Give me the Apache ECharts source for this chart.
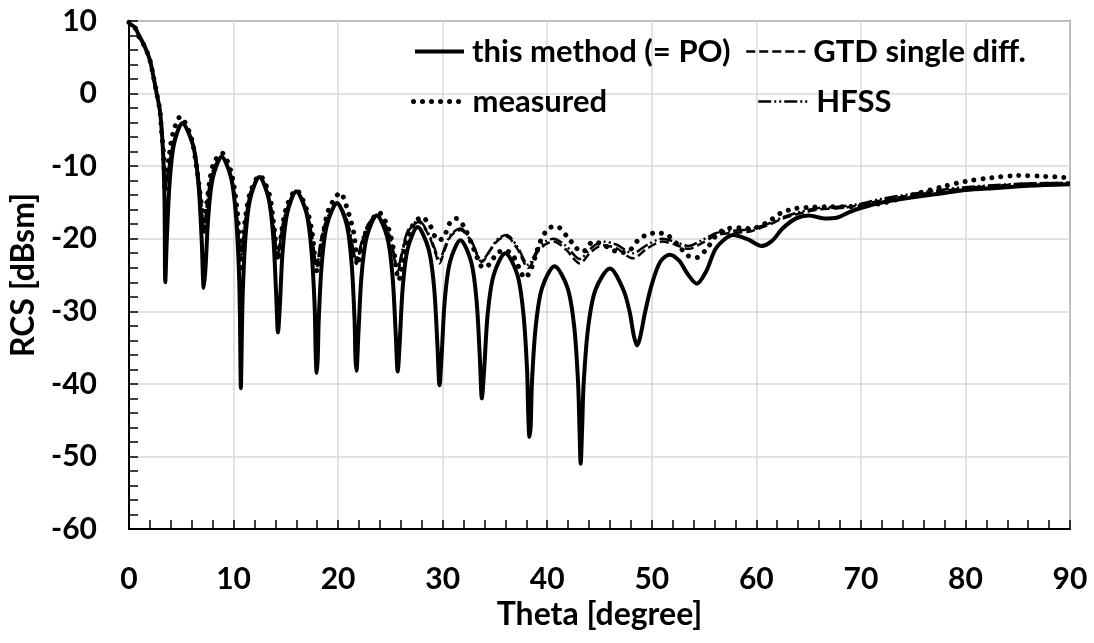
<!DOCTYPE html>
<html>
<head>
<meta charset="utf-8">
<script src="https://cdn.jsdelivr.net/npm/echarts@6/dist/echarts.min.js"></script>
<style>html,body{margin:0;padding:0;background:#fff}#c{width:1094px;height:643px}</style>
</head>
<body>
<div id="c"></div>
<script>
// ---- data: [theta (degree), RCS (dBsm)] ----
const seriesNames = ['this method (= PO)', 'GTD single diff.', 'measured', 'HFSS'];

const poData = [
  [0,9.6],[0.5,9.2],[1,7.9],[1.5,6.5],[2,4.6],[2.3,2.6],[2.65,0],[2.95,-2.3],[3.15,-5.5],[3.3,-9.5],[3.4,-15],[3.47,-26],
  [3.62,-20],[3.88,-12.4],[4.28,-7.1],[5.1,-4.1],[6.12,-7.1],[6.64,-12.4],[6.95,-20.1],[7.15,-26.8],
  [7.32,-24],[7.58,-17],[8.0,-11.7],[8.86,-8.7],[9.78,-11.7],[10.24,-17],[10.52,-24.7],[10.61,-30.8],[10.7,-40.6],
  [10.79,-33.6],[10.88,-27.5],[11.14,-19.8],[11.59,-14.5],[12.47,-11.5],[13.36,-14.5],[13.8,-19.8],[14.07,-27.5],[14.25,-32.9],
  [14.42,-29.5],[14.69,-21.8],[15.13,-16.5],[16.0,-13.5],[16.98,-16.5],[17.46,-21.8],[17.76,-29.5],[17.85,-35.5],[17.95,-38.5],
  [18.05,-36.5],[18.15,-31.1],[18.44,-23.4],[18.93,-18.1],[19.9,-15.1],[20.83,-18.1],[21.29,-23.4],[21.57,-31.1],[21.66,-36.5],[21.75,-38.2],
  [21.95,-32.8],[22.24,-25.1],[22.73,-19.8],[23.7,-16.8],[24.7,-19.8],[25.2,-25.1],[25.5,-32.8],[25.7,-38.3],
  [25.89,-34.4],[26.18,-26.7],[26.65,-21.4],[27.6,-18.4],[28.65,-21.4],[29.18,-26.7],[29.49,-34.4],[29.7,-40.2],
  [29.9,-36.2],[30.2,-28.5],[30.7,-23.2],[31.7,-20.2],[32.73,-23.2],[33.24,-28.5],[33.55,-36.2],[33.75,-42],
  [33.97,-38],[34.31,-30.3],[34.88,-25],[36.0,-22],[37.15,-25],[37.72,-30.3],[38.07,-38],[38.18,-44],[38.3,-47.3],
  [38.42,-45.8],[38.54,-39.8],[38.9,-32.1],[39.5,-26.8],[40.7,-23.8],[41.95,-26.8],[42.58,-32.1],[42.95,-39.8],[43.08,-45.8],[43.2,-51],
  [43.34,-46.1],[43.48,-40.1],[43.9,-32.4],[44.6,-27.1],[46.0,-24.1],[47.3,-27.1],[47.9,-30.2],[48.3,-33.5],[48.6,-34.7],
  [48.9,-33.5],[49.35,-30.2],[50.0,-26.3],[50.8,-23.2],[51.7,-22.2],[52.6,-23.0],[53.4,-24.8],[54.3,-26.2],
  [55.2,-24.5],[56.2,-21.2],[57.8,-19.5],[59.2,-20.1],[60.5,-21],
  [61.5,-20.3],[62.5,-18.6],[63.8,-17.2],[65,-16.8],[66.5,-17.2],[67.7,-17.1],[68.8,-16.4],[69.9,-15.8],
  [72,-15.0],[75,-14.3],[78,-13.7],[80,-13.3],[83,-13.0],[86,-12.7],[90,-12.5]
];

const gtdData = [
  [0,9.6],[0.5,9.2],[1,7.9],[1.5,6.5],[2,4.6],[2.3,2.6],[2.65,0],[2.95,-2.3],[3.15,-5.5],[3.3,-9.2],[3.45,-13.5],
  [3.6,-12],[3.88,-9.5],[4.28,-6.5],[5.1,-4.1],[6.12,-7.1],[6.64,-11.5],[6.95,-16],[7.15,-19.5],
  [7.35,-17],[7.6,-13.8],[8.0,-10.8],[8.86,-8.7],[9.78,-11.7],[10.24,-16],[10.5,-20],[10.7,-23],
  [10.9,-20.5],[11.14,-17.5],[11.59,-13.8],[12.47,-11.5],[13.36,-14.3],[13.8,-18],[14.25,-22.5],
  [14.6,-19],[15.13,-15.8],[16,-13.5],[16.98,-16.2],[17.46,-19.5],[17.95,-24],
  [18.4,-20],[18.93,-17.5],[19.9,-15.1],[20.83,-17.5],[21.29,-20.5],[21.75,-23.5],
  [22.2,-21],[22.73,-18.6],[23.7,-16.8],[24.7,-18.8],[25.2,-21.5],[25.7,-24.5],
  [26.2,-21.5],[26.7,-19],[27.7,-17.7],[28.65,-19.5],[29.2,-21.5],[29.7,-23.4],
  [30.2,-21.5],[30.8,-19.6],[31.7,-18.8],[32.7,-20.3],[33.75,-23.2],[34.6,-21.5],[35.3,-20.2],[36.1,-19.7],
  [37.1,-21.3],[38.2,-24],[39.0,-22],[39.8,-20.8],[40.6,-20.4],[41.8,-21.5],[43.1,-23.4],[44.2,-21.8],[45.3,-20.9],
  [46.6,-21.3],[48.2,-22.7],[49.6,-21.3],[51,-20.4],[52.2,-20.8],[53.5,-21.4],[54.8,-20.6],[56.2,-19.5],
  [57.8,-19.2],[59.4,-19.0],[61,-18.2],[62.6,-17.2],[64.2,-16.5],[65.8,-16],[67.8,-15.8],[69.9,-15.4],
  [72,-14.7],[75,-14],[78,-13.4],[80,-13.0],[83,-12.7],[86,-12.4],[90,-12.3]
];

const measData = [
  [0,9.8],[0.5,9.3],[1,7.7],[1.5,6.5],[2,4.6],[2.3,2.6],[2.65,0],[2.95,-2.3],[3.1,-5],[3.3,-8.2],[3.45,-13.5],
  [3.6,-11.5],[3.85,-8.5],[4.2,-5.5],[4.9,-3.2],[5.9,-5.8],[6.5,-10.5],[6.9,-15],[7.15,-18],
  [7.4,-15.5],[7.7,-12.2],[8.1,-9.6],[8.9,-8.2],[9.8,-11],[10.3,-15.5],[10.5,-19],[10.7,-24],
  [10.9,-20],[11.2,-16.5],[11.6,-13.6],[12.5,-11.3],[13.4,-13.8],[13.8,-17.5],[14.3,-23],
  [14.6,-19],[15.1,-15.5],[16,-13.3],[17,-16],[17.5,-19],[18,-24.5],
  [18.5,-20],[19.1,-16],[20.2,-13.7],[21.0,-16.5],[21.5,-19.2],[21.9,-23.4],
  [22.3,-21],[22.9,-18.3],[23.9,-16.4],[24.8,-18.5],[25.3,-21.5],[25.8,-25.7],
  [26.3,-22],[26.9,-18.8],[28.0,-17.0],[28.8,-18.2],[29.3,-19.8],[29.7,-20.2],
  [30.2,-19.5],[30.7,-17.8],[31.3,-17.2],[32.1,-18.5],[33.0,-21.5],[33.9,-24],[34.5,-23.5],[35.2,-22],[36,-21.6],
  [36.8,-22.5],[37.9,-25.4],[38.5,-24],[39.3,-20.5],[40.1,-18.6],[40.9,-18.3],[41.9,-19.7],[42.8,-21.3],[43.4,-21.8],
  [44.4,-20.4],[45.3,-20.8],[46.3,-21.6],[47.2,-21.9],[47.9,-21.6],[48.7,-20.2],[49.6,-19.4],[50.6,-19.2],
  [51.6,-19.6],[52.6,-21.0],[53.4,-22.3],[54.3,-22.6],[55.2,-21.5],[56.2,-19.5],[57.2,-18.6],[58.4,-18.5],
  [59.4,-18.6],[60.3,-18.3],[61.4,-17.4],[62.3,-16.5],[63.5,-15.9],[64.8,-15.7],[67,-15.6],[69,-15.6],
  [70.5,-15.4],[72.1,-15.1],[73.7,-14.5],[75.3,-13.8],[77.9,-12.8],[80,-12.1],[82.5,-11.6],[85,-11.3],[87.5,-11.4],[90,-11.6]
];

const hfssData = [
  [0,9.6],[0.5,9.2],[1,7.9],[1.5,6.5],[2,4.6],[2.3,2.6],[2.65,0],[2.95,-2.3],[3.15,-5.5],[3.3,-9.0],[3.45,-13.2],
  [3.6,-11.8],[3.88,-9.4],[4.28,-6.5],[5.1,-4.0],[6.12,-7.0],[6.64,-11.3],[6.95,-15.6],[7.15,-19],
  [7.35,-16.8],[7.6,-13.6],[8.0,-10.7],[8.86,-8.6],[9.78,-11.6],[10.24,-15.8],[10.5,-19.6],[10.7,-22.5],
  [10.9,-20.2],[11.14,-17.3],[11.59,-13.7],[12.47,-11.4],[13.36,-14.2],[13.8,-17.8],[14.25,-22.2],
  [14.6,-18.8],[15.13,-15.7],[16,-13.4],[16.98,-16.1],[17.46,-19.3],[17.95,-23.6],
  [18.4,-19.8],[18.93,-17.3],[19.9,-15.0],[20.83,-17.3],[21.29,-20.2],[21.75,-23.1],
  [22.2,-20.7],[22.73,-18.4],[23.7,-16.7],[24.7,-18.6],[25.2,-21.2],[25.7,-24.0],
  [26.2,-21.2],[26.7,-18.8],[27.7,-17.5],[28.65,-19.3],[29.2,-21.2],[29.7,-23.0],
  [30.2,-21.2],[30.8,-19.4],[31.7,-18.6],[32.7,-20.2],[33.75,-23.0],[34.6,-21.4],[35.3,-20.0],[36.1,-19.5],
  [37.1,-21.0],[38.2,-23.6],[39.0,-21.7],[39.8,-20.4],[40.6,-20.0],[41.8,-21.0],[43.1,-22.8],[44.2,-21.3],[45.3,-20.4],
  [46.6,-20.8],[48.2,-22.0],[49.6,-20.8],[51,-20.0],[52.2,-20.4],[53.5,-21.0],[54.8,-20.2],[56.2,-19.2],
  [57.8,-18.9],[59.4,-18.7],[61,-18.0],[62.6,-17.0],[64.2,-16.3],[65.8,-15.8],[67.8,-15.6],[69.9,-15.2],
  [72,-14.5],[75,-13.8],[78,-13.2],[80,-12.9],[83,-12.6],[86,-12.4],[90,-12.3]
];

const FONT = 'Lato';
const chart = echarts.init(document.getElementById('c'), null, {renderer: 'canvas'});

function legendAt(name, left, top, iw, lineStyle) {
  return {
    data: [name], left: left, top: top, padding: 0, itemWidth: iw, itemHeight: 16,
    selectedMode: false,
    itemStyle: {opacity: 0},
    textStyle: {fontFamily: FONT, fontWeight: 'bold', fontSize: 31, color: '#000', padding: [0,0,0,3]},
    lineStyle: lineStyle
  };
}

const dashGTD = [9, 4];
const dashHFSS = [13, 3, 2, 3, 2, 3];
const dotMeas = [0.01, 9];

chart.setOption({
  animation: false,
  backgroundColor: '#fff',
  grid: {left: 129, top: 21, right: 24, bottom: 114, show: true, borderColor: '#404040', borderWidth: 1.5, backgroundColor: 'transparent'},
  legend: [
    legendAt(seriesNames[0], 413, 36, 49, {width: 4, color: '#000', opacity: 1}),
    legendAt(seriesNames[1], 745, 36, 59, {width: 2.5, color: '#000', type: dashGTD, opacity: 1}),
    legendAt(seriesNames[2], 411, 86, 51, {width: 5, color: '#000', type: dotMeas, cap: 'round', opacity: 1}),
    legendAt(seriesNames[3], 757, 86, 50, {width: 2.5, color: '#000', type: dashHFSS, opacity: 1})
  ],
  xAxis: {
    type: 'value', min: 0, max: 90, interval: 10,
    name: 'Theta [degree]', nameLocation: 'middle', nameGap: 64,
    nameTextStyle: {fontFamily: FONT, fontWeight: 'bold', fontSize: 32, color: '#000'},
    axisLine: {show: true, onZero: false, lineStyle: {color: '#000', width: 2}},
    axisTick: {show: true, inside: true, length: 9, lineStyle: {color: '#000', width: 1.5}},
    minorTick: {show: true, splitNumber: 5, length: 9, lineStyle: {color: '#000', width: 1.5}},
    axisLabel: {margin: 35, fontFamily: FONT, fontWeight: 'bold', fontSize: 30, color: '#000'},
    splitLine: {show: true, lineStyle: {color: '#d9d9d9', width: 1.5}}
  },
  yAxis: {
    type: 'value', min: -60, max: 10, interval: 10,
    name: 'RCS [dBsm]', nameLocation: 'middle', nameGap: 86, nameRotate: 90,
    nameTextStyle: {fontFamily: FONT, fontWeight: 'bold', fontSize: 32, color: '#000'},
    axisLine: {show: true, onZero: false, lineStyle: {color: '#000', width: 2}},
    axisTick: {show: true, inside: true, length: 9, lineStyle: {color: '#000', width: 1.5}},
    minorTick: {show: true, splitNumber: 5, length: 9, lineStyle: {color: '#000', width: 1.5}},
    axisLabel: {margin: 32, fontFamily: FONT, fontWeight: 'bold', fontSize: 30, color: '#000'},
    splitLine: {show: true, lineStyle: {color: '#d9d9d9', width: 1.5}}
  },
  series: [
    {name: seriesNames[0], type: 'line', data: poData, showSymbol: false, symbol: 'none', smooth: 0.3, z: 3,
     lineStyle: {color: '#000', width: 4}, itemStyle: {color: '#000'}},
    {name: seriesNames[1], type: 'line', data: gtdData, showSymbol: false, symbol: 'none', smooth: 0.3, z: 4,
     lineStyle: {color: '#000', width: 2.5, type: dashGTD}, itemStyle: {color: '#000'}},
    {name: seriesNames[2], type: 'line', data: measData, showSymbol: false, symbol: 'none', smooth: 0.3, z: 5,
     lineStyle: {color: '#000', width: 5, type: dotMeas, cap: 'round'}, itemStyle: {color: '#000'}},
    {name: seriesNames[3], type: 'line', data: hfssData, showSymbol: false, symbol: 'none', smooth: 0.3, z: 4,
     lineStyle: {color: '#000', width: 2.5, type: dashHFSS}, itemStyle: {color: '#000'}}
  ]
});
</script>
</body>
</html>
